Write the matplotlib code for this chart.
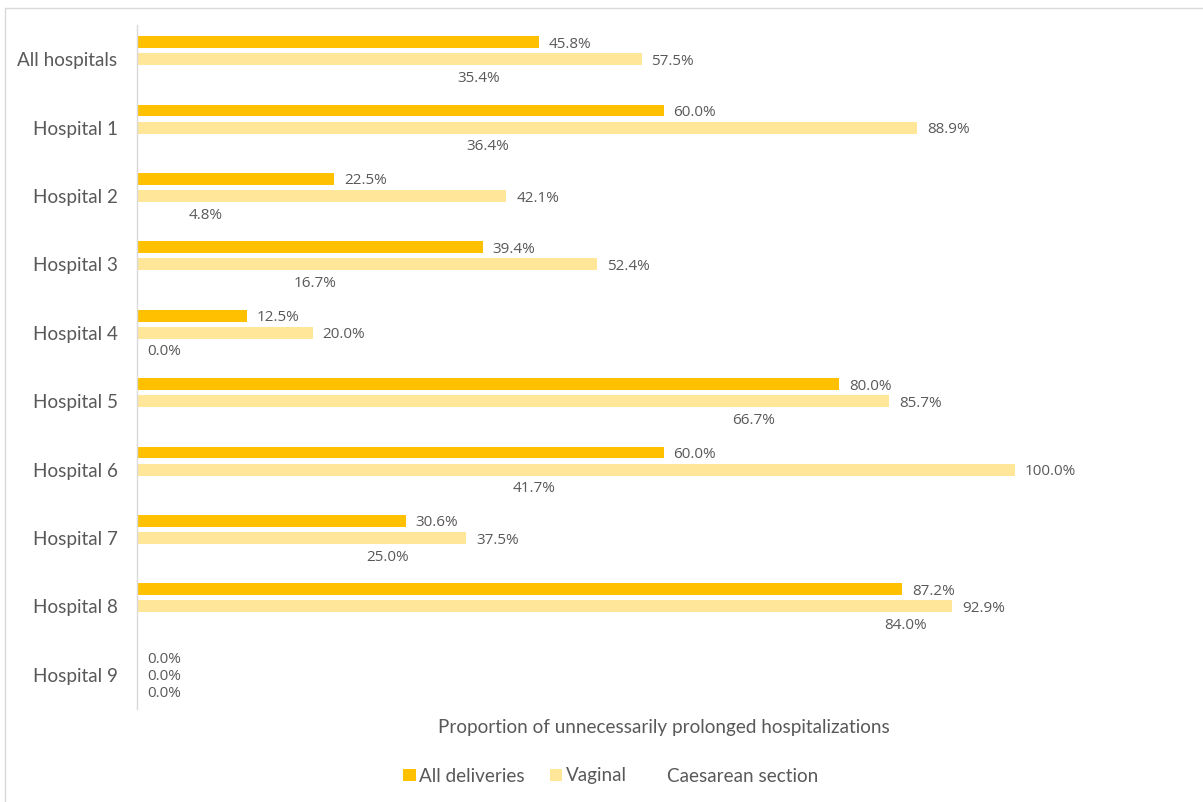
import matplotlib
matplotlib.use("Agg")
import matplotlib.pyplot as plt
from matplotlib.patches import Rectangle, Patch

categories = ["All hospitals", "Hospital 1", "Hospital 2", "Hospital 3", "Hospital 4",
              "Hospital 5", "Hospital 6", "Hospital 7", "Hospital 8", "Hospital 9"]
all_deliveries = [45.8, 60.0, 22.5, 39.4, 12.5, 80.0, 60.0, 30.6, 87.2, 0.0]
vaginal = [57.5, 88.9, 42.1, 52.4, 20.0, 85.7, 100.0, 37.5, 92.9, 0.0]
caesarean = [35.4, 36.4, 4.8, 16.7, 0.0, 66.7, 41.7, 25.0, 84.0, 0.0]

series_names = ["All deliveries", "Vaginal", "Caesarean section"]
series_values = [all_deliveries, vaginal, caesarean]
series_colors = ["#FFC000", "#FFE699", "#FFFFFF"]

W, H = 1203, 802
fig = plt.figure(figsize=(W / 100, H / 100), dpi=100)

# outer chart border (light gray)
fig.patches.append(Rectangle((5 / W, -0.05), 1.2, (H - 8) / H + 0.05,
                             transform=fig.transFigure, fill=False,
                             edgecolor="#D9D9D9", linewidth=1.0))

ax = fig.add_axes([137 / W, 1 - 709 / H, (1190 - 137) / W, (709 - 25) / H])

text_color = "#595959"
cat_font = "Lato"
lbl_font = "Open Sans"
cat_size = 13.6

offsets = [-0.25, 0.0, 0.25]
bar_h = 0.175
for vals, off, col, name in zip(series_values, offsets, series_colors, series_names):
    ys = [i + off for i in range(len(categories))]
    ax.barh(ys, [v / 100 for v in vals], height=bar_h, color=col, label=name)
    for y, v in zip(ys, vals):
        ax.annotate(f"{v:.1f}%", xy=(v / 100, y), xytext=(10, -2),
                    textcoords="offset pixels",
                    ha="left", va="center", fontsize=11, color=text_color,
                    family=lbl_font)

ax.set_xlim(0, 1.2)
ax.set_ylim(len(categories) - 0.5, -0.5)
ax.set_yticks(range(len(categories)))
ax.set_yticklabels(categories, family=cat_font, fontsize=cat_size, color=text_color)
ax.tick_params(axis="y", length=0, pad=14)
ax.set_xticks([])
for s in ["top", "right", "bottom"]:
    ax.spines[s].set_visible(False)
ax.spines["left"].set_color("#D9D9D9")
ax.spines["left"].set_linewidth(1.0)

fig.text((137 + 1190) / 2 / W, 1 - 727 / H,
         "Proportion of unnecessarily prolonged hospitalizations",
         ha="center", va="center", fontsize=cat_size, color=text_color, family=cat_font)

handles = [Patch(facecolor=c, edgecolor="none") for c in series_colors]
leg = fig.legend(handles, series_names, loc="center", bbox_to_anchor=(611 / W, 1 - 776 / H),
                 ncol=3, frameon=False, handlelength=0.65, handleheight=0.65,
                 handletextpad=0.2, columnspacing=1.3,
                 prop={"family": cat_font, "size": cat_size})
for t in leg.get_texts():
    t.set_color(text_color)

fig.savefig("out.png", dpi=100)
